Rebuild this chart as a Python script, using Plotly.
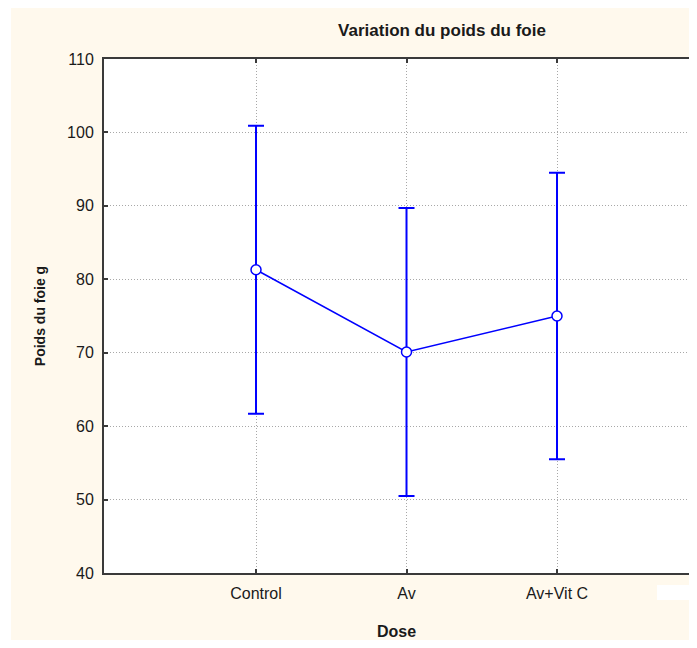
import plotly.graph_objects as go

categories = ["Control", "Av", "Av+Vit C"]
means = [81.3, 70.1, 75.0]
errors = [19.6, 19.6, 19.5]
y_ticks = [40, 50, 60, 70, 80, 90, 100, 110]

# figure is placed by the page at an 8px offset
W, H = 681, 632
L, R, T, B = 96, 0, 51, 67
pw, ph = W - L - R, H - T - B

def px_x(p):
    return (p - L) / pw

def px_y(p):
    return (H - B - p) / ph

BLUE = "#0000ff"
CREAM = "#fff9ed"
AXC = "#3a3a3a"
TXT = "#1a1a1a"
FONT = "Liberation Sans, Arial, sans-serif"

fig = go.Figure()
fig.add_trace(go.Scatter(
    x=categories, y=means,
    mode="lines+markers",
    line=dict(color=BLUE, width=1.5),
    marker=dict(symbol="circle", size=10, color="white", line=dict(color=BLUE, width=1.5)),
    error_y=dict(type="data", array=errors, visible=True, color=BLUE, thickness=2, width=8),
    showlegend=False,
))

shapes = [
    dict(type="rect", xref="paper", yref="paper", x0=px_x(-5), x1=px_x(3), y0=px_y(660), y1=px_y(-10),
         fillcolor="white", line=dict(width=0), layer="above"),
    dict(type="rect", xref="paper", yref="paper", x0=px_x(649), x1=px_x(700), y0=px_y(592), y1=px_y(577),
         fillcolor="white", line=dict(width=0), layer="above"),
]

fig.update_layout(
    width=W, height=H,
    margin=dict(l=L, r=R, t=T, b=B, pad=0),
    paper_bgcolor=CREAM,
    plot_bgcolor="white",
    font=dict(family=FONT, size=16, color=TXT),
    title=dict(text="<b>Variation du poids du foie</b>", x=px_x(434), xref="paper", xanchor="center",
               y=1 - 22 / H, yref="container", yanchor="middle",
               font=dict(family=FONT, size=17, color=TXT)),
    shapes=shapes,
    xaxis=dict(
        type="category", range=[-1.01, 2.877],
        showgrid=True, gridcolor="#a8a8a8", griddash="1px,2px", gridwidth=1,
        showline=True, linecolor=AXC, linewidth=2, mirror="ticks",
        ticks="inside", ticklen=4, tickcolor=AXC, tickwidth=2,
        ticklabelstandoff=5,
        tickfont=dict(family=FONT, size=16, color=TXT),
        zeroline=False,
        automargin=False,
        title=dict(text="<b>Dose</b>", standoff=25, font=dict(family=FONT, size=16, color=TXT)),
    ),
    yaxis=dict(
        range=[40, 110], tickvals=y_ticks,
        showgrid=True, gridcolor="#a8a8a8", griddash="1px,2px", gridwidth=1,
        showline=True, linecolor=AXC, linewidth=2, mirror=False,
        ticks="inside", ticklen=4, tickcolor=AXC, tickwidth=2,
        ticklabelstandoff=5,
        tickfont=dict(family=FONT, size=16, color=TXT),
        zeroline=False,
        automargin=False,
        title=dict(text="<b>Poids du foie g</b>", standoff=18, font=dict(family=FONT, size=14, color=TXT)),
    ),
)

fig.write_html("out.html")
